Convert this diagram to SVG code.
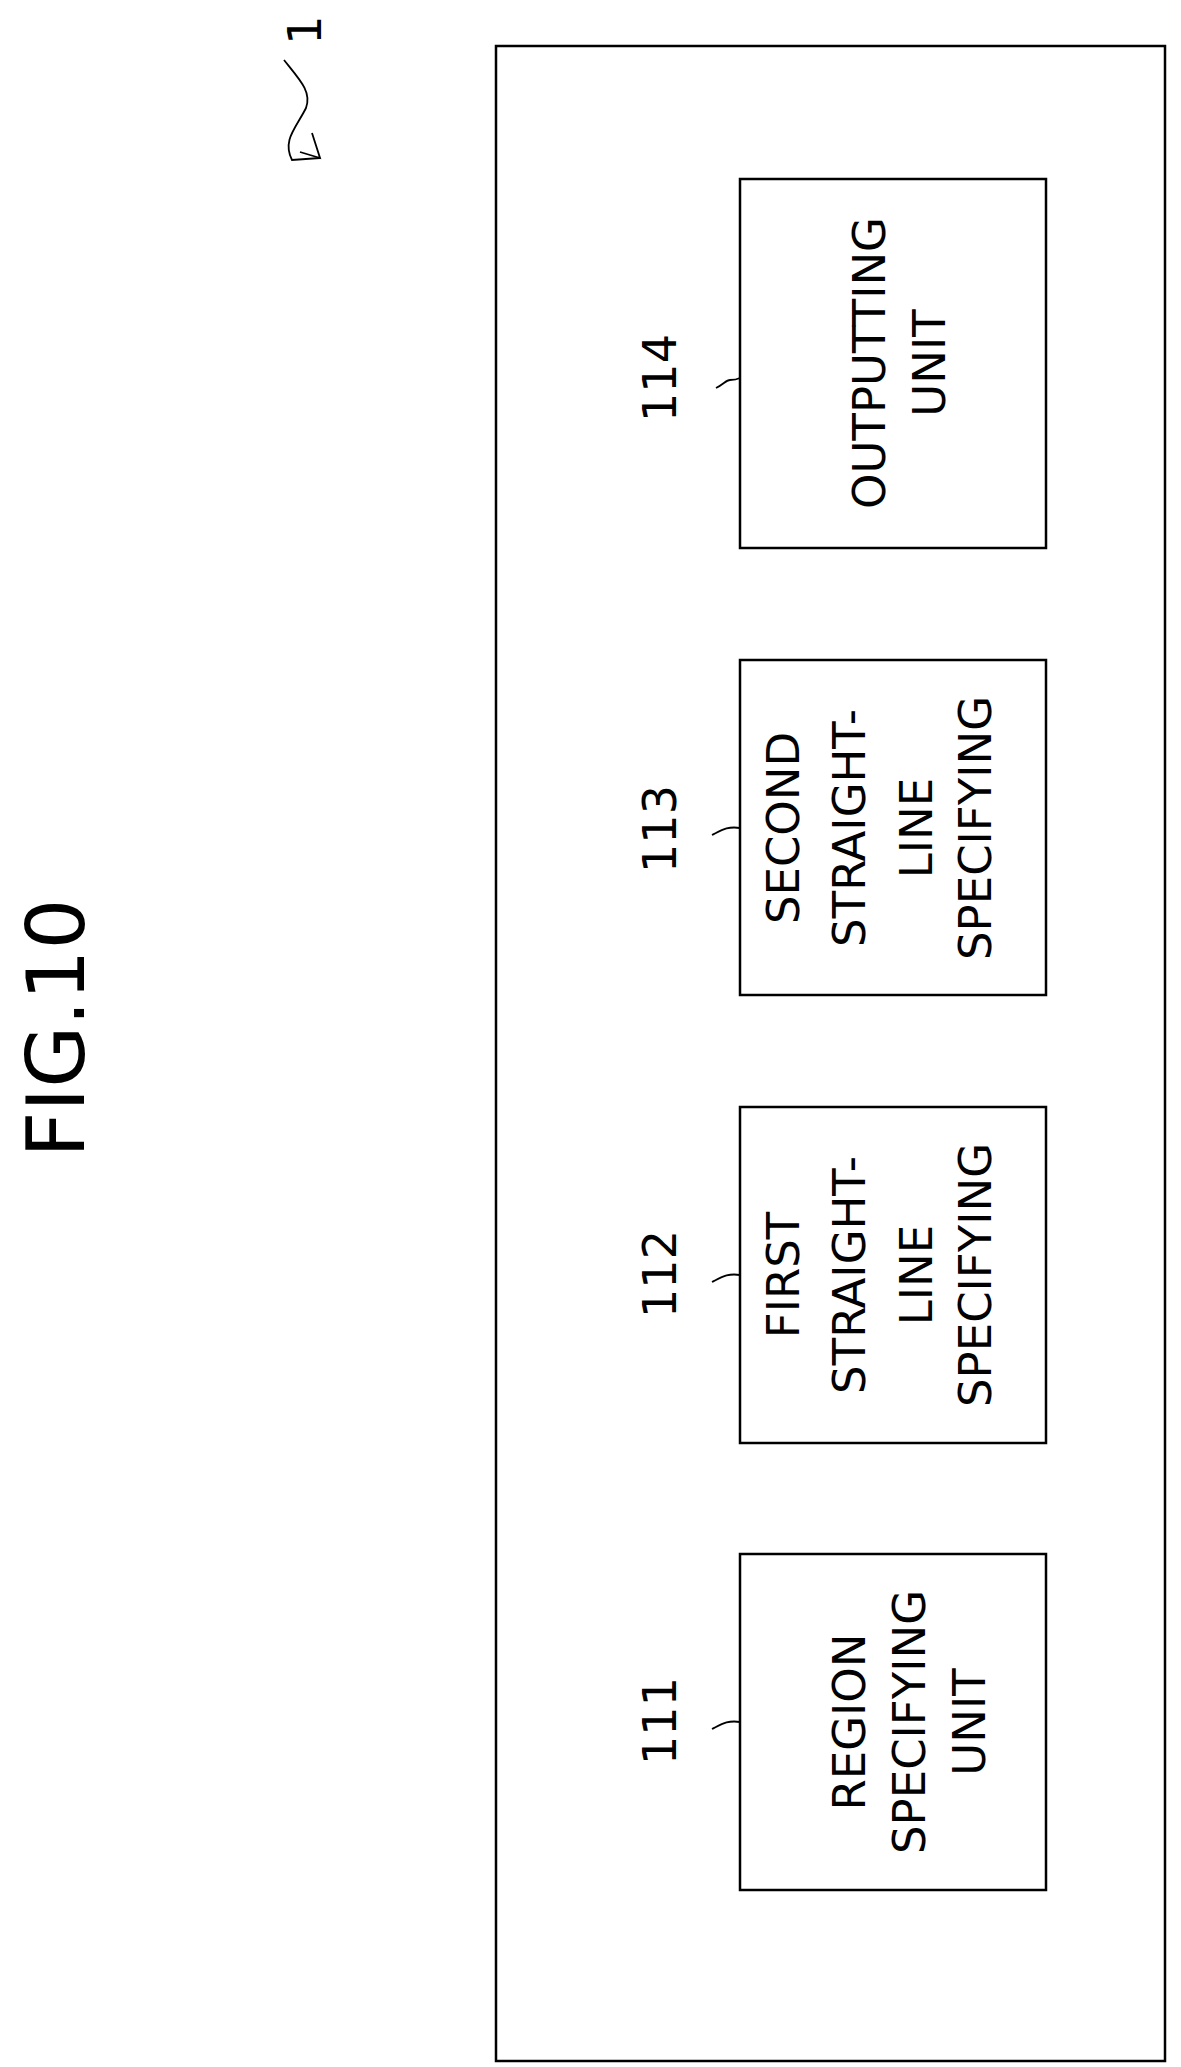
<svg xmlns="http://www.w3.org/2000/svg" width="1181" height="2067" viewBox="0 0 1181 2067">
<style>
.b{fill:none;stroke:#000;stroke-width:2.5}
.l{fill:none;stroke:#000;stroke-width:1.8}
text{font-family:"DejaVu Sans",sans-serif;fill:#000;text-anchor:middle;dominant-baseline:central}
.t{font-size:45px}
.n{font-size:46px}
</style>
<rect width="1181" height="2067" fill="#fff"/>
<text transform="translate(56,1028) rotate(-90)" style="font-size:80px">FIG.10</text>
<text transform="translate(305,30) rotate(-90)" class="n">1</text>
<g id="connectors">
<path class="l" d="M284,60 C300,80 312,92 306,108 C296,128 282,140 292,160 L320,158"/>
<path class="l" d="M312,133 L320,158 L300,152"/>
<path class="l" d="M716,388 C724,384 726,380 730,380 C734,380 736,380 740,378"/>
<path class="l" d="M712,835 C722,830 728,826 740,828"/>
<path class="l" d="M712,1282 C722,1277 728,1273 740,1275"/>
<path class="l" d="M712,1729 C722,1724 728,1720 740,1722"/>
</g>
<g id="outer"><rect class="b" x="496" y="46" width="669" height="2015"/></g>
<g id="n114">
<rect class="b" x="740" y="179" width="306" height="369"/>
<text transform="translate(660,378) rotate(-90)" class="n">114</text>
<text transform="translate(869,363) rotate(-90)" class="t">OUTPUTTING</text>
<text transform="translate(929,363) rotate(-90)" class="t">UNIT</text>
</g>
<g id="n113">
<rect class="b" x="740" y="660" width="306" height="335"/>
<text transform="translate(660,829) rotate(-90)" class="n">113</text>
<text transform="translate(783,828) rotate(-90)" class="t">SECOND</text>
<text transform="translate(849,828) rotate(-90)" class="t">STRAIGHT-</text>
<text transform="translate(916,828) rotate(-90)" class="t">LINE</text>
<text transform="translate(975,828) rotate(-90)" class="t">SPECIFYING</text>
<text transform="translate(1032,828) rotate(-90)" class="t"></text>
</g>
<g id="n112">
<rect class="b" x="740" y="1107" width="306" height="336"/>
<text transform="translate(660,1274) rotate(-90)" class="n">112</text>
<text transform="translate(783,1275) rotate(-90)" class="t">FIRST</text>
<text transform="translate(849,1275) rotate(-90)" class="t">STRAIGHT-</text>
<text transform="translate(916,1275) rotate(-90)" class="t">LINE</text>
<text transform="translate(975,1275) rotate(-90)" class="t">SPECIFYING</text>
</g>
<g id="n111">
<rect class="b" x="740" y="1554" width="306" height="336"/>
<text transform="translate(660,1721) rotate(-90)" class="n">111</text>
<text transform="translate(849,1722) rotate(-90)" class="t">REGION</text>
<text transform="translate(909,1722) rotate(-90)" class="t">SPECIFYING</text>
<text transform="translate(969,1722) rotate(-90)" class="t">UNIT</text>
</g>
</svg>
